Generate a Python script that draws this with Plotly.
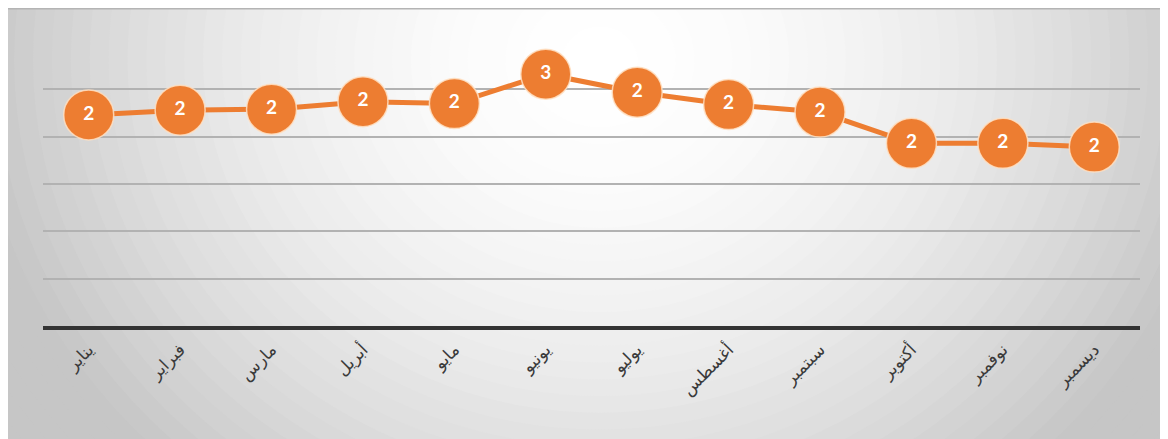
import plotly.graph_objects as go

months = ["يناير", "فبراير", "مارس", "أبريل", "مايو", "يونيو",
          "يوليو", "أغسطس", "سبتمبر", "أكتوبر", "نوفمبر", "ديسمبر"]
values = [2.23, 2.28, 2.29, 2.37, 2.35, 2.66, 2.47, 2.34, 2.26, 1.93, 1.93, 1.89]

W, H = 1168, 439
OFF = 8  # page body margin
# plot area in page pixels: x 43..1140, y 42..326
L = 43 - OFF
T = 42 - OFF
R = W - (1140 - OFF)
B = H - (326 - OFF)
pw, ph = W - L - R, H - T - B


def px_to_paper(x, y):
    # x, y given in page pixels
    return (x - OFF - L) / pw, (H - B - (y - OFF)) / ph


shapes = []
# radial gradient background built from concentric ellipses
cx, cy, RX, RY = 600, 60, 630, 560
N = 45
rmax = 1.35
for k in range(N):
    r = rmax * (1 - k / N)
    c = int(round(255 - 56 * (r ** 1.8)))
    c = max(198, min(255, c))
    x0, y0 = px_to_paper(cx - RX * r, cy + RY * r)
    x1, y1 = px_to_paper(cx + RX * r, cy - RY * r)
    shapes.append(dict(type="circle", xref="paper", yref="paper",
                       x0=x0, x1=x1, y0=y0, y1=y1, layer="below",
                       fillcolor=f"rgb({c},{c},{c})", line=dict(width=0)))
# top edge line
a0, b0 = px_to_paper(6, 8.5)
a1, b1 = px_to_paper(W + 20, 8.5)
shapes.append(dict(type="line", xref="paper", yref="paper", x0=a0, x1=a1, y0=b0, y1=b1,
                   layer="below", line=dict(color="#b4b4b4", width=2)))

fig = go.Figure()
fig.add_trace(go.Scatter(
    x=months, y=values,
    mode="lines+markers+text",
    line=dict(color="#ED7D31", width=5),
    marker=dict(size=50, color="#ED7D31",
                line=dict(color="rgba(255,225,195,0.85)", width=1.5)),
    texttemplate="%{y:.0f}",
    textposition="middle center",
    textfont=dict(family="Lato", size=19, color="white", weight="bold"),
    hoverinfo="skip",
    cliponaxis=False,
))

fig.update_layout(
    width=W, height=H,
    margin=dict(l=L, r=R, t=T, b=B, pad=0),
    paper_bgcolor="white",
    plot_bgcolor="rgba(0,0,0,0)",
    showlegend=False,
    shapes=shapes,
    xaxis=dict(
        type="category", range=[-0.5, 11.5],
        showgrid=False, zeroline=False,
        showline=True, linecolor="#333333", linewidth=4,
        ticks="", tickangle=-45,
        tickfont=dict(family="DejaVu Sans", size=17, color="#3a3a3a"),
        ticklabelstandoff=3,
    ),
    yaxis=dict(
        range=[0, 3], dtick=0.5,
        showgrid=True, gridcolor="#b2b2b2", gridwidth=2,
        zeroline=False, showticklabels=False, ticks="",
        showline=False,
    ),
)

fig.write_html("out.html")
